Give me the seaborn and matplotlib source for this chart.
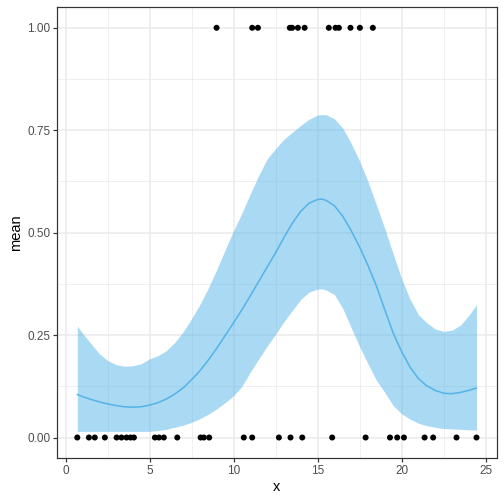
import numpy as np
import pandas as pd
import seaborn as sns
import matplotlib.pyplot as plt

# Observations (binary outcome)
x_zero = [0.70, 1.39, 1.74, 2.34, 3.04, 3.33, 3.63, 3.87, 4.07, 5.32, 5.56, 5.85, 6.65,
          8.04, 8.23, 8.55, 10.61, 11.11, 12.70, 13.39, 14.09, 15.87, 17.86, 19.31,
          19.74, 20.14, 21.37, 21.88, 23.27, 24.46]
x_one = [8.99, 11.11, 11.45, 13.35, 13.49, 13.83, 14.23, 15.67, 16.07, 16.27, 16.96,
         17.52, 18.29]

# Smooth fit
fit_x = [0.70, 1.0, 1.5, 2.0, 2.5, 3.0, 3.5, 4.0, 4.5, 5.0,
         5.5, 6.0, 6.5, 7.0, 7.5, 8.0, 8.5, 9.0, 9.5, 10.0,
         10.5, 11.0, 11.5, 12.0, 12.5, 13.0, 13.5, 14.0, 14.5, 15.0,
         15.25, 15.5, 16.0, 16.5, 17.0, 17.5, 18.0, 18.5, 19.0, 19.5,
         20.0, 20.5, 21.0, 21.5, 22.0, 22.5, 23.0, 23.5, 24.0, 24.46]
fit_mean = [0.105, 0.100, 0.093, 0.087, 0.082, 0.078, 0.075, 0.074, 0.075, 0.079,
            0.085, 0.094, 0.106, 0.121, 0.141, 0.163, 0.189, 0.218, 0.249, 0.280,
            0.312, 0.346, 0.381, 0.416, 0.451, 0.488, 0.523, 0.552, 0.572, 0.581,
            0.582, 0.579, 0.566, 0.540, 0.505, 0.465, 0.420, 0.370, 0.312, 0.255,
            0.210, 0.172, 0.144, 0.126, 0.115, 0.108, 0.107, 0.110, 0.115, 0.121]
fit_lo = [0.015, 0.015, 0.015, 0.015, 0.015, 0.015, 0.015, 0.015, 0.015, 0.015,
          0.017, 0.020, 0.025, 0.030, 0.037, 0.046, 0.057, 0.070, 0.085, 0.102,
          0.125, 0.160, 0.192, 0.223, 0.252, 0.283, 0.310, 0.337, 0.355, 0.362,
          0.363, 0.360, 0.349, 0.315, 0.268, 0.222, 0.180, 0.140, 0.110, 0.078,
          0.058, 0.045, 0.035, 0.029, 0.025, 0.022, 0.021, 0.020, 0.019, 0.018]
fit_hi = [0.272, 0.255, 0.230, 0.205, 0.188, 0.178, 0.174, 0.175, 0.180, 0.192,
          0.200, 0.212, 0.232, 0.258, 0.290, 0.325, 0.365, 0.410, 0.458, 0.505,
          0.548, 0.595, 0.640, 0.680, 0.705, 0.728, 0.745, 0.762, 0.777, 0.787,
          0.788, 0.788, 0.778, 0.755, 0.718, 0.675, 0.625, 0.568, 0.510, 0.448,
          0.388, 0.338, 0.300, 0.280, 0.265, 0.259, 0.262, 0.274, 0.298, 0.324]

pts = pd.DataFrame({"x": x_zero + x_one,
                    "mean": [0.0] * len(x_zero) + [1.0] * len(x_one)})
fit = pd.DataFrame({"x": fit_x, "mean": fit_mean, "lo": fit_lo, "hi": fit_hi})

sns.set_style("white")
plt.rcParams['font.family'] = ['Liberation Sans', 'DejaVu Sans']

fig = plt.figure(figsize=(7, 7), dpi=72)
ax = fig.add_axes([57.3 / 504, 1 - 458 / 504, (496.5 - 57.3) / 504, (458 - 7.3) / 504])

# ribbon + line
ax.fill_between(fit["x"], fit["lo"], fit["hi"], color="#56B4E9", alpha=0.5, lw=0, zorder=2)
sns.lineplot(data=fit, x="x", y="mean", color="#56B4E9", lw=1.6, ax=ax, zorder=3)
sns.scatterplot(data=pts, x="x", y="mean", color="black", s=36, edgecolor="none", ax=ax, zorder=4)

ax.set_xlim(-0.49, 25.65)
ax.set_ylim(-0.05, 1.05)
ax.set_xticks([0, 5, 10, 15, 20, 25])
ax.set_yticks([0, 0.25, 0.5, 0.75, 1.0])
ax.set_yticklabels(["0.00", "0.25", "0.50", "0.75", "1.00"])
ax.set_xticks(np.arange(2.5, 25, 5), minor=True)
ax.set_yticks([0.125, 0.375, 0.625, 0.875], minor=True)

ax.grid(which="major", color="#EBEBEB", lw=1.5, zorder=0)
ax.grid(which="minor", color="#EBEBEB", lw=0.75, zorder=0)
ax.set_axisbelow(True)
for s in ax.spines.values():
    s.set_color("#333333")
    s.set_linewidth(1.2)

ax.tick_params(which="major", length=4, width=1.2, color="#333333",
               labelsize=11.7, labelcolor="#4D4D4D", pad=3, bottom=True, left=True)
ax.tick_params(which="minor", length=0)
ax.set_xlabel("x", fontsize=14.6, color="black", labelpad=3)
ax.set_ylabel("mean", fontsize=14.6, color="black", labelpad=4)

fig.savefig("out.png", dpi=72)
